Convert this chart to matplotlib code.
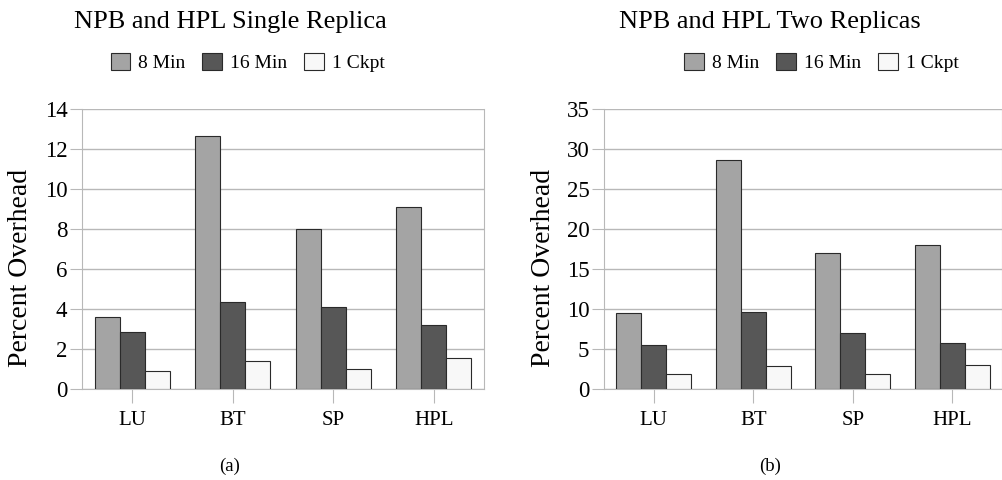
#!/usr/bin/env python3
"""
NPB / HPL checkpoint overhead, single vs two replicas
"""

import matplotlib
matplotlib.use('Agg')
import matplotlib.pyplot as plt
import numpy as np

plt.rcParams['font.family'] = ['Liberation Serif', 'DejaVu Serif']

benchmarks = ['LU', 'BT', 'SP', 'HPL']
series_names = ['8 Min', '16 Min', '1 Ckpt']

single_8min = [3.6, 12.65, 8.0, 9.1]
single_16min = [2.85, 4.33, 4.1, 3.18]
single_1ckpt = [0.9, 1.42, 1.0, 1.53]

two_8min = [9.5, 28.6, 17.0, 18.0]
two_16min = [5.5, 9.6, 7.0, 5.7]
two_1ckpt = [1.9, 2.9, 1.9, 3.0]

colors = ['#a4a4a4', '#575757', '#f8f8f8']
edge = '#2a2a2a'
grid_col = '#b8b8b8'


def draw_panel(fig, rect, series, ymax, ystep, title, caption, cap_x, legend_x, ylab_x):
    ax = fig.add_axes(rect)
    x = np.arange(len(benchmarks))
    width = 0.25
    for i, (vals, name) in enumerate(zip(series, series_names)):
        ax.bar(x + (i - 1) * width, vals, width, color=colors[i],
               edgecolor=edge, linewidth=0.8, label=name, zorder=3)

    ax.set_xlim(-0.5, len(benchmarks) - 0.5)
    ax.set_ylim(0, ymax)
    ax.set_yticks(np.arange(0, ymax + 0.1, ystep))
    ax.set_xticks(x)
    ax.set_xticklabels(benchmarks)
    ax.yaxis.grid(True, color=grid_col, linewidth=1, zorder=0)
    for side in ['left', 'right', 'bottom', 'top']:
        ax.spines[side].set_color(grid_col)
    ax.spines['top'].set_visible(False)
    ax.tick_params(axis='y', length=8.5, color=grid_col, labelsize=16.5, pad=2)
    ax.tick_params(axis='x', length=10, color=grid_col, labelsize=15, pad=6)

    # y label sits a little below the axes centre in the original
    fig.text(ylab_x, 1 - 268 / 480, 'Percent Overhead', fontsize=20,
             rotation=90, ha='center', va='center')
    fig.text(cap_x, 0.955, title, fontsize=19, ha='center', va='center')
    fig.text(cap_x, 0.028, caption, fontsize=13.5, ha='center', va='center')
    ax.legend(loc='center left', bbox_to_anchor=(legend_x, 0.87), bbox_transform=fig.transFigure,
              ncol=3, frameon=False, fontsize=14, handlelength=1.0, handleheight=1.0,
              columnspacing=0.9, handletextpad=0.4)
    return ax


fig = plt.figure(figsize=(10.03, 4.8), dpi=100)

draw_panel(fig, [82 / 1003, 91 / 480, 402 / 1003, 280 / 480],
           [single_8min, single_16min, single_1ckpt], 14, 2,
           'NPB and HPL Single Replica', '(a)', 230 / 1003, 93 / 1003, 21 / 1003)
draw_panel(fig, [604 / 1003, 91 / 480, 398 / 1003, 280 / 480],
           [two_8min, two_16min, two_1ckpt], 35, 5,
           'NPB and HPL Two Replicas', '(b)', 770 / 1003, 667 / 1003, 543 / 1003)

plt.savefig('out.png', dpi=100)
plt.close()
